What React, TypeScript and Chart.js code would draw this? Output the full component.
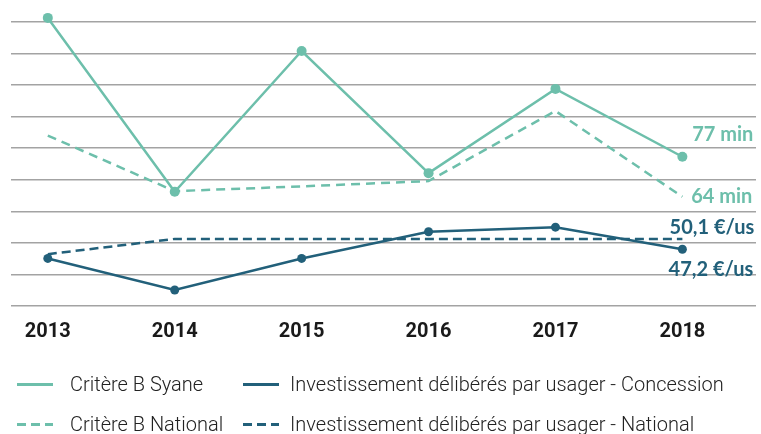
import React, { useEffect, useRef } from "react";
import { Chart, registerables } from "chart.js";

Chart.register(...registerables);

const years = ["2013", "2014", "2015", "2016", "2017", "2018"];
const critereSyane = [121.3, 66.2, 110.8, 72.1, 98.8, 77.3];
const critereNational = [84, 66.4, 67.9, 69.6, 91.8, 64.6];
const investConcession = [44.6, 35.7, 44.6, 52.1, 53.4, 47.2];
const investNational = [45.8, 50.1, 50.1, 50.1, 50.1, 50.1];
const seriesNames = [
  "Critère B Syane",
  "Investissement délibérés par usager - Concession",
  "Critère B National",
  "Investissement délibérés par usager - National",
];
const endLabels = ["77 min", "47,2 €/us", "64 min", "50,1 €/us"];

const TEAL = "#6dbfab";
const DARK = "#22607a";

const toXY = (arr: number[]) => arr.map((v, i) => ({ x: i, y: v }));

const labelOffsets = [
  { dx: 71, dy: -22 },
  { dx: 71, dy: 20 },
  { dx: 70, dy: 0 },
  { dx: 72, dy: -11 },
];

const endLabelPlugin = {
  id: "endLabels",
  afterDatasetsDraw(chart: any) {
    const ctx = chart.ctx;
    chart.data.datasets.forEach((ds: any, i: number) => {
      const meta = chart.getDatasetMeta(i);
      const pt = meta.data[meta.data.length - 1];
      if (!pt) return;
      const off = labelOffsets[i];
      ctx.save();
      ctx.font = "700 20px Lato";
      ctx.fillStyle = ds.borderColor;
      ctx.textAlign = "right";
      ctx.textBaseline = "middle";
      ctx.fillText(endLabels[i], pt.x + off.dx, pt.y + off.dy);
      ctx.restore();
    });
  },
};

const legendItems = [
  { name: seriesNames[0], color: TEAL, dashed: false },
  { name: seriesNames[1], color: DARK, dashed: false },
  { name: seriesNames[2], color: TEAL, dashed: true },
  { name: seriesNames[3], color: DARK, dashed: true },
];

export default function App() {
  const ref = useRef<HTMLCanvasElement>(null);
  useEffect(() => {
    document.body.style.margin = "0";
    const chart = new Chart(ref.current as HTMLCanvasElement, {
      type: "line",
      data: {
        datasets: [
          {
            label: seriesNames[0],
            data: toXY(critereSyane),
            borderColor: TEAL,
            backgroundColor: TEAL,
            borderWidth: 2.5,
            pointRadius: 5,
            pointBorderWidth: 0,
            yAxisID: "y",
            clip: false as any,
          },
          {
            label: seriesNames[1],
            data: toXY(investConcession),
            borderColor: DARK,
            backgroundColor: DARK,
            borderWidth: 2.5,
            pointRadius: 4.5,
            pointBorderWidth: 0,
            yAxisID: "y2",
            clip: false as any,
          },
          {
            label: seriesNames[2],
            data: toXY(critereNational),
            borderColor: TEAL,
            backgroundColor: TEAL,
            borderWidth: 2.5,
            borderDash: [9, 6],
            pointRadius: 0,
            yAxisID: "y",
            clip: false as any,
          },
          {
            label: seriesNames[3],
            data: toXY(investNational),
            borderColor: DARK,
            backgroundColor: DARK,
            borderWidth: 2.5,
            borderDash: [9, 5],
            pointRadius: 0,
            yAxisID: "y2",
            clip: false as any,
          },
        ],
      },
      options: {
        animation: false,
        responsive: false,
        devicePixelRatio: 1,
        layout: { padding: { top: 22, left: 11, right: 0, bottom: 0 } },
        plugins: { legend: { display: false }, tooltip: { enabled: false } },
        scales: {
          x: {
            type: "linear",
            min: -0.29,
            max: 5.58,
            afterBuildTicks: (scale: any) => {
              scale.ticks = years.map((_, i) => ({ value: i }));
            },
            afterFit: (scale: any) => {
              scale.height = 128;
            },
            grid: { display: false, drawTicks: false },
            border: { display: false },
            ticks: {
              padding: 14,
              autoSkip: false,
              maxRotation: 0,
              color: "#1a1a1a",
              font: { family: "Roboto", weight: "bold", size: 20 },
              callback: (v: any) => years[v as number],
            },
          },
          y: {
            position: "left",
            min: 30,
            max: 120,
            ticks: { display: false, stepSize: 10 },
            grid: { color: "#a3a3a3", lineWidth: 1.5, drawTicks: false },
            border: { display: false },
          },
          y2: {
            display: false,
            min: 31.2,
            max: 111.2,
          },
        },
      } as any,
      plugins: [endLabelPlugin],
    });
    return () => chart.destroy();
  }, []);

  const dashBg = (c: string) =>
    `repeating-linear-gradient(to right, ${c} 0px, ${c} 9px, transparent 9px, transparent 14px)`;

  return (
    <div style={{ position: "absolute", left: 0, top: 0, width: 761, height: 434, background: "#fff" }}>
      <canvas ref={ref} width={761} height={434} style={{ display: "block" }} />
      {legendItems.map((it, i) => {
        const col = i % 2;
        const row = Math.floor(i / 2);
        return (
          <div
            key={i}
            style={{
              position: "absolute",
              left: col === 0 ? 17 : 243,
              top: row === 0 ? 384 - 12 : 424 - 12,
              height: 24,
              display: "flex",
              alignItems: "center",
              whiteSpace: "nowrap",
              fontFamily: "Roboto",
              fontWeight: 300,
              fontSize: 20,
              color: "#222",
            }}
          >
            <span
              style={{
                display: "inline-block",
                width: 36,
                height: 3,
                marginRight: col === 0 ? 17 : 11,
                background: it.dashed ? dashBg(it.color) : it.color,
              }}
            />
            <span>{it.name}</span>
          </div>
        );
      })}
    </div>
  );
}
